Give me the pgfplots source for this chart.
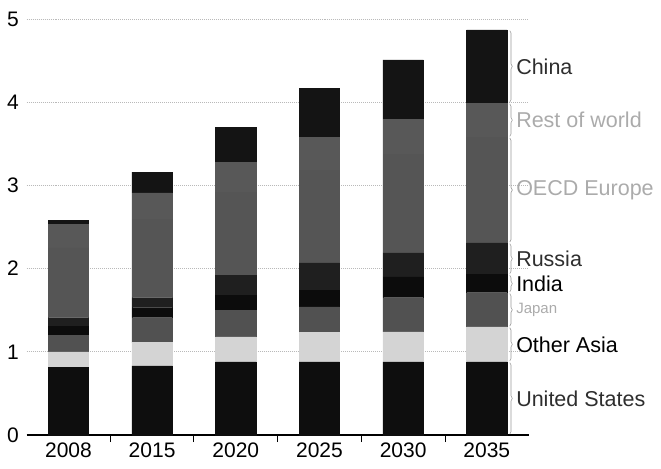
\documentclass[border=0pt]{standalone}
\usepackage{fontspec}
\setmainfont{Liberation Sans}
\usepackage{pgfplots}
\pgfplotsset{compat=1.18}
\usetikzlibrary{decorations.pathreplacing}

% segment fills
\definecolor{cUS}{HTML}{0E0E0E}
\definecolor{cOA}{HTML}{D4D4D4}
\definecolor{cJP}{HTML}{515151}
\definecolor{cIN}{HTML}{0C0C0C}
\definecolor{cRU}{HTML}{1F1F1F}
\definecolor{cEU}{HTML}{555555}
\definecolor{cRW}{HTML}{585858}
\definecolor{cCN}{HTML}{141414}
% label text
\definecolor{tDark}{HTML}{2E2E2E}
\definecolor{tLight}{HTML}{ABABAB}
\definecolor{braceGray}{HTML}{9A9A9A}

\tikzset{
  namebrace/.style={draw=braceGray, line width=0.6pt, decorate, decoration={brace, amplitude=2.5bp}},
  regionlabel/.style={anchor=west, inner sep=0pt, font=\fontsize{21.5bp}{24bp}\selectfont},
  seg/.style={fill=#1, draw=#1, line width=0.4pt},
}

\begin{document}
\begin{tikzpicture}
\begin{axis}[
  scale only axis, width=502bp, height=416bp,
  xmin=-0.5, xmax=5.5, ymin=0, ymax=5,
  ybar stacked, bar width=40.5bp,
  axis lines*=left,
  y axis line style={draw=none},
  x axis line style={line width=1.1pt, -},
  xtick={0,...,5},
  xticklabels={2008,2015,2020,2025,2030,2035},
  minor x tick num=1,
  major x tick style={draw=none},
  minor x tick style={draw=black, line width=0.9pt},
  minor tick length=7bp,
  tick align=outside,
  ytick={0,...,5},
  ytick style={draw=none},
  ymajorgrids,
  major grid style={gray!55, line width=0.7pt, dash pattern=on 1pt off 1pt},
  /pgf/number format/assume math mode=true,
  tick label style={font=\fontsize{21bp}{24bp}\selectfont, text=black},
  clip=false,
]
% United States
\addplot[seg=cUS] coordinates {(0,0.81) (1,0.83) (2,0.88) (3,0.88) (4,0.88) (5,0.88)};
% Other Asia
\addplot[seg=cOA] coordinates {(0,0.19) (1,0.28) (2,0.30) (3,0.35) (4,0.36) (5,0.42)};
% Japan
\addplot[seg=cJP] coordinates {(0,0.20) (1,0.30) (2,0.32) (3,0.31) (4,0.41) (5,0.41)};
% India
\addplot[seg=cIN] coordinates {(0,0.11) (1,0.12) (2,0.18) (3,0.20) (4,0.25) (5,0.22)};
% Russia
\addplot[seg=cRU] coordinates {(0,0.10) (1,0.12) (2,0.24) (3,0.33) (4,0.29) (5,0.38)};
% OECD Europe
\addplot[seg=cEU] coordinates {(0,0.84) (1,0.94) (2,1.00) (3,1.11) (4,1.18) (5,1.27)};
% Rest of world
\addplot[seg=cRW] coordinates {(0,0.28) (1,0.32) (2,0.36) (3,0.40) (4,0.42) (5,0.41)};
% China
\addplot[seg=cCN] coordinates {(0,0.05) (1,0.25) (2,0.42) (3,0.59) (4,0.72) (5,0.88)};

% braces and names beside the 2035 bar (cumulative heights of that bar)
\draw[namebrace] (axis cs:5.275,0.87) -- (axis cs:5.275,0.01);
\draw[namebrace] (axis cs:5.275,1.29) -- (axis cs:5.275,0.89);
\draw[namebrace] (axis cs:5.275,1.70) -- (axis cs:5.275,1.31);
\draw[namebrace] (axis cs:5.275,1.92) -- (axis cs:5.275,1.72);
\draw[namebrace] (axis cs:5.275,2.30) -- (axis cs:5.275,1.94);
\draw[namebrace] (axis cs:5.275,3.57) -- (axis cs:5.275,2.32);
\draw[namebrace] (axis cs:5.275,3.98) -- (axis cs:5.275,3.59);
\draw[namebrace] (axis cs:5.275,4.86) -- (axis cs:5.275,4.00);

\node[regionlabel, text=tDark]  at (axis cs:5.35,0.44)  {United States};
\node[regionlabel, text=black]  at (axis cs:5.35,1.09)  {Other Asia};
\node[regionlabel, text=tLight, font=\fontsize{15bp}{18bp}\selectfont] at (axis cs:5.35,1.505) {Japan};
\node[regionlabel, text=black]  at (axis cs:5.35,1.82)  {India};
\node[regionlabel, text=tDark]  at (axis cs:5.35,2.12)  {Russia};
\node[regionlabel, text=tLight] at (axis cs:5.35,2.945) {OECD Europe};
\node[regionlabel, text=tLight] at (axis cs:5.35,3.785) {Rest of world};
\node[regionlabel, text=tDark]  at (axis cs:5.35,4.43)  {China};

\coordinate (bl) at (rel axis cs:-0.053,-0.0793);
\coordinate (tr) at (rel axis cs:1.2637,1.0457);
\end{axis}
\pgfresetboundingbox
\path[use as bounding box] (bl) rectangle (tr);
\end{tikzpicture}
\end{document}
